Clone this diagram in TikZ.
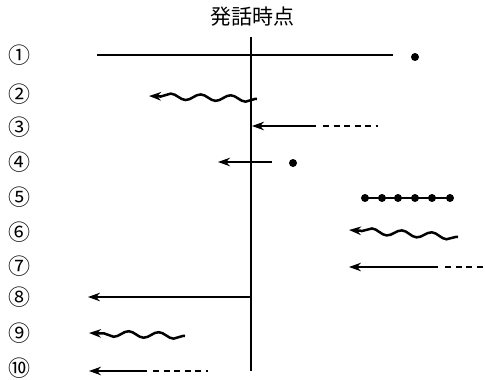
\documentclass[tikz,border=0pt]{standalone}
\usepackage{fontspec}
\newfontfamily\jpfont{Noto Sans CJK JP}
\usetikzlibrary{arrows.meta,decorations.pathmorphing}
\begin{document}
\begin{tikzpicture}[x=1pt,y=-1pt,
  line/.style={line width=2.5pt},
  arr/.style={line width=2.5pt,-{Stealth[length=12pt,width=8.5pt]}},
  wave/.style={line width=2.5pt,-{Stealth[length=12pt,width=8.5pt]},
    decorate,decoration={snake,amplitude=3pt,segment length=30pt,
      pre length=2pt,post length=9pt}},
  dashpart/.style={line width=2.5pt,dash pattern=on 6pt off 4.5pt},
  dot/.style={circle,fill=black,inner sep=0pt,minimum size=8pt},
  num/.style={font=\jpfont\fontsize{22}{22}\selectfont,inner sep=0pt}]
\useasboundingbox (0,0) rectangle (485,380);

% heading and time axis
\node[font=\jpfont\fontsize{21}{21}\selectfont] (title) at (252,17) {発話時点};
\coordinate (axtop) at (251,37);
\coordinate (axbot) at (251,371);
\draw[line width=2.6pt] (axtop) -- (axbot);

% row numbers
\foreach \n/\y in {1/55,2/94,3/127,4/162,5/197,6/232,7/266,8/297,9/333,10/368}
  \node[num] (n\n) at (20,\y) {\ifcase\n\or ①\or ②\or ③\or ④\or ⑤\or ⑥\or ⑦\or ⑧\or ⑨\or ⑩\fi};

% 1: line through the axis, dot beyond
\coordinate (a1) at (97,55); \coordinate (b1) at (393,55);
\draw[line] (a1) -- (b1);
\node[dot] (d1) at (415,57) {};

% 2: wavy arrow ending at the axis
\coordinate (a2) at (257,99); \coordinate (b2) at (149,96);
\draw[wave] (a2) -- (b2);

% 3: arrow into the axis with a dashed tail
\coordinate (a3) at (316,126); \coordinate (b3) at (252,126);
\coordinate (c3) at (323,126); \coordinate (e3) at (378,126);
\draw[arr] (a3) -- (b3);
\draw[dashpart] (c3) -- (e3);

% 4: short arrow across the axis, dot to the right
\coordinate (a4) at (272,162); \coordinate (b4) at (218,162);
\draw[arr] (a4) -- (b4);
\node[dot] (d4) at (293,163) {};

% 5: dotted chain
\coordinate (a5) at (365,198); \coordinate (b5) at (451,198);
\draw[line] (a5) -- (b5);
\foreach \x [count=\i] in {365,382,398,415,432,450}
  \node[dot] (p5\i) at (\x,198) {};

% 6: wavy arrow
\coordinate (a6) at (458,237); \coordinate (b6) at (349,230);
\draw[wave] (a6) -- (b6);

% 7: arrow with dashed tail
\coordinate (a7) at (438,267); \coordinate (b7) at (349,267);
\coordinate (c7) at (445,267); \coordinate (e7) at (485,267);
\draw[arr] (a7) -- (b7);
\draw[dashpart] (c7) -- (e7);

% 8: arrow leaving the axis
\coordinate (a8) at (250,297); \coordinate (b8) at (88,297);
\draw[arr] (a8) -- (b8);

% 9: wavy arrow
\coordinate (a9) at (185,336); \coordinate (b9) at (89,333);
\draw[wave] (a9) -- (b9);

% 10: arrow with dashed tail
\coordinate (a10) at (147,371); \coordinate (b10) at (89,371);
\coordinate (c10) at (153,371); \coordinate (e10) at (208,371);
\draw[arr] (a10) -- (b10);
\draw[dashpart] (c10) -- (e10);
\end{tikzpicture}
\end{document}
